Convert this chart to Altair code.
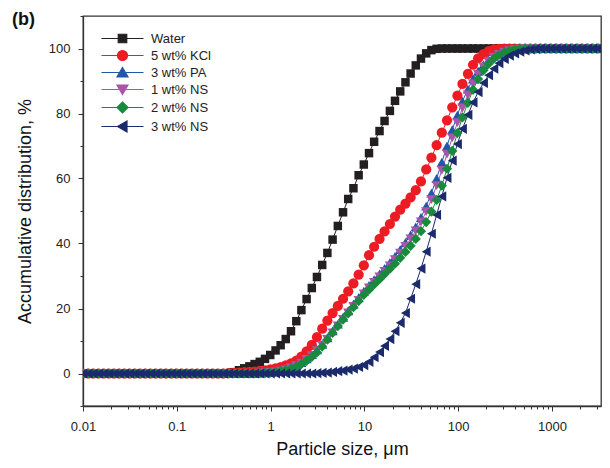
import altair as alt
import pandas as pd

# Particle size classes (um)
sizes = [
    0.0100, 0.0114, 0.0129, 0.0147, 0.0167, 0.0189, 0.0215, 0.0244, 0.0278, 0.0315,
    0.0358, 0.0407, 0.0463, 0.0526, 0.0597, 0.0679, 0.0771, 0.0876, 0.0995, 0.113,
    0.128, 0.146, 0.166, 0.188, 0.214, 0.243, 0.276, 0.314, 0.357, 0.405,
    0.460, 0.523, 0.594, 0.675, 0.767, 0.872, 0.991, 1.13, 1.28, 1.45,
    1.65, 1.88, 2.13, 2.42, 2.75, 3.12, 3.55, 4.03, 4.58, 5.21,
    5.92, 6.72, 7.64, 8.68, 9.86, 11.2, 12.7, 14.5, 16.4, 18.7,
    21.2, 24.1, 27.4, 31.1, 35.3, 40.1, 45.6, 51.8, 58.9, 66.9,
    76.0, 86.4, 98.1, 111, 127, 144, 163, 186, 211, 240,
    272, 310, 352, 400, 454, 516, 586, 666, 756, 859,
    976, 1110, 1260, 1430, 1630, 1850, 2100, 2390, 2710, 3080,
    3500,
]

water = [
    0, 0, 0, 0, 0, 0, 0, 0, 0, 0,
    0, 0, 0, 0, 0, 0, 0, 0, 0, 0,
    0, 0, 0, 0, 0, 0, 0, 0, 0.1, 0.4,
    1.0, 1.6, 2.2, 2.9, 3.6, 4.5, 5.7, 7.1, 8.7, 10.6,
    13.0, 16.1, 19.5, 22.9, 26.3, 29.7, 33.4, 37.1, 41.2, 45.4,
    49.6, 53.7, 57.0, 61.0, 64.3, 67.8, 71.3, 74.6, 77.7, 80.8,
    83.9, 86.8, 89.6, 92.3, 94.8, 96.9, 98.5, 99.5, 99.9, 100,
    100, 100, 100, 100, 100, 100, 100, 100, 100, 100,
    100, 100, 100, 100, 100, 100, 100, 100, 100, 100,
    100, 100, 100, 100, 100, 100, 100, 100, 100, 100,
    100,
]

kcl = [
    0, 0, 0, 0, 0, 0, 0, 0, 0, 0,
    0, 0, 0, 0, 0, 0, 0, 0, 0, 0,
    0, 0, 0, 0, 0, 0, 0, 0, 0.1, 0.2,
    0.3, 0.4, 0.5, 0.6, 0.8, 1.0, 1.3, 1.6, 2.0, 2.5,
    3.1, 4.0, 5.2, 6.8, 8.8, 11.2, 13.8, 16.3, 18.6, 20.8,
    23.0, 25.3, 27.7, 30.4, 33.3, 36.4, 39.0, 41.4, 43.7, 46.0,
    48.3, 50.4, 52.3, 54.2, 56.4, 59.1, 62.8, 66.4, 70.3, 74.1,
    77.9, 81.9, 85.5, 89.1, 92.2, 95.0, 97.0, 98.3, 99.2, 99.7,
    99.9, 100, 100, 100, 100, 100, 100, 100, 100, 100,
    100, 100, 100, 100, 100, 100, 100, 100, 100, 100,
    100,
]

pa = [
    0, 0, 0, 0, 0, 0, 0, 0, 0, 0,
    0, 0, 0, 0, 0, 0, 0, 0, 0, 0,
    0, 0, 0, 0, 0, 0, 0, 0, 0, 0,
    0, 0, 0, 0, 0.1, 0.2, 0.3, 0.5, 0.8, 1.2,
    1.8, 2.5, 3.4, 4.5, 5.8, 7.3, 9.0, 11.0, 13.1, 15.2,
    17.3, 19.3, 21.3, 23.3, 25.3, 27.1, 28.9, 30.6, 32.3, 34.1,
    36.0, 38.1, 40.3, 42.6, 45.1, 48.0, 51.5, 55.5, 60.0, 65.0,
    70.0, 75.0, 79.5, 83.8, 87.5, 90.6, 93.0, 95.0, 96.5, 97.6,
    98.4, 99.0, 99.4, 99.7, 99.9, 100, 100, 100, 100, 100,
    100, 100, 100, 100, 100, 100, 100, 100, 100, 100,
    100,
]

ns1 = [
    0, 0, 0, 0, 0, 0, 0, 0, 0, 0,
    0, 0, 0, 0, 0, 0, 0, 0, 0, 0,
    0, 0, 0, 0, 0, 0, 0, 0, 0, 0,
    0, 0, 0, 0, 0.1, 0.2, 0.3, 0.5, 0.7, 1.1,
    1.7, 2.4, 3.2, 4.3, 5.5, 7.0, 8.6, 10.5, 12.5, 14.6,
    16.6, 18.6, 20.6, 22.5, 24.5, 26.3, 28.0, 29.7, 31.4, 33.1,
    35.0, 37.0, 39.1, 41.4, 43.9, 46.6, 49.8, 53.5, 57.8, 62.5,
    67.5, 72.5, 77.2, 81.7, 85.7, 89.2, 92.0, 94.3, 96.0, 97.3,
    98.2, 98.9, 99.3, 99.7, 99.9, 100, 100, 100, 100, 100,
    100, 100, 100, 100, 100, 100, 100, 100, 100, 100,
    100,
]

ns2 = [
    0, 0, 0, 0, 0, 0, 0, 0, 0, 0,
    0, 0, 0, 0, 0, 0, 0, 0, 0, 0,
    0, 0, 0, 0, 0, 0, 0, 0, 0, 0,
    0, 0, 0, 0, 0.1, 0.2, 0.3, 0.5, 0.7, 1.0,
    1.5, 2.1, 2.9, 3.9, 5.1, 6.5, 8.3, 10.4, 12.5, 14.6,
    16.6, 18.5, 20.4, 22.3, 24.2, 25.8, 27.4, 29.0, 30.6, 32.2,
    33.8, 35.6, 37.4, 39.3, 41.4, 43.8, 46.6, 49.8, 53.4, 57.8,
    63.0, 68.5, 74.0, 78.8, 83.3, 87.3, 90.6, 93.3, 95.3, 96.9,
    98.0, 98.8, 99.3, 99.7, 99.9, 100, 100, 100, 100, 100,
    100, 100, 100, 100, 100, 100, 100, 100, 100, 100,
    100,
]

ns3 = [
    0, 0, 0, 0, 0, 0, 0, 0, 0, 0,
    0, 0, 0, 0, 0, 0, 0, 0, 0, 0,
    0, 0, 0, 0, 0, 0, 0, 0, 0, 0,
    0, 0, 0, 0, 0, 0, 0, 0, 0, 0,
    0, 0, 0, 0, 0, 0.1, 0.2, 0.3, 0.5, 0.7,
    0.9, 1.2, 1.5, 2.0, 2.6, 3.6, 5.0, 6.6, 8.5, 10.6,
    13.0, 15.6, 18.6, 23.0, 27.5, 32.3, 37.5, 43.0, 48.8, 54.5,
    60.2, 65.5, 70.6, 75.3, 79.6, 83.4, 86.6, 89.4, 91.8, 93.8,
    95.5, 96.8, 97.8, 98.5, 99.0, 99.4, 99.7, 99.9, 100, 100,
    100, 100, 100, 100, 100, 100, 100, 100, 100, 100,
    100,
]

names = ["Water", "5 wt% KCl", "3 wt% PA", "1 wt% NS", "2 wt% NS", "3 wt% NS"]
colors = ["#231f20", "#ed1c24", "#2156a8", "#a855aa", "#178a3c", "#1b2a6b"]
shapes = ["square", "circle", "triangle-up", "triangle-down", "diamond", "triangle-left"]
legend_shapes = [
    "M-4.2,0H4.2M-0.85,-0.85H0.85V0.85H-0.85Z",
    "M-4.2,0H4.2M1,0A1,1,0,1,1,-1,0A1,1,0,1,1,1,0Z",
    "M-4.2,0H4.2M0,-1L1.1,0.9H-1.1Z",
    "M-4.2,0H4.2M0,1L1.1,-0.9H-1.1Z",
    "M-4.2,0H4.2M0,-1.1L1.1,0L0,1.1L-1.1,0Z",
    "M-4.2,0H4.2M-1,0L0.9,-1.1V1.1Z",
]
panel_label = ["(b)"]

x_major = [0.01, 0.1, 1, 10, 100, 1000]
x_minor = [
    0.02, 0.03, 0.04, 0.05, 0.06, 0.07, 0.08, 0.09,
    0.2, 0.3, 0.4, 0.5, 0.6, 0.7, 0.8, 0.9,
    2, 3, 4, 5, 6, 7, 8, 9,
    20, 30, 40, 50, 60, 70, 80, 90,
    200, 300, 400, 500, 600, 700, 800, 900,
    2000, 3000,
]
y_major = [0, 20, 40, 60, 80, 100]
y_minor = [-10, 10, 30, 50, 70, 90, 110]

series_values = [water, kcl, pa, ns1, ns2, ns3]
rows = []
for name, vals in zip(names, series_values):
    for s, v in zip(sizes, vals):
        rows.append({"size": s, "value": v, "series": name})
df = pd.DataFrame(rows)

FONT = "Liberation Sans"
x_scale = alt.Scale(type="log", domain=[0.01, 3330], nice=False)
y_scale = alt.Scale(domain=[-10, 110], nice=False, zero=False)
color_scale = alt.Scale(domain=names, range=colors)

base = alt.Chart(df)

lines = base.mark_line(strokeWidth=1, clip=True).encode(
    x=alt.X("size:Q", scale=x_scale,
            axis=alt.Axis(values=x_major, format="~g", tickSize=5, labelPadding=9,
                          labelFlush=False, title="Particle size, μm", titlePadding=7,
                          orient="bottom", grid=False)),
    y=alt.Y("value:Q", scale=y_scale,
            axis=alt.Axis(values=y_major, tickSize=5, labelPadding=8, labelFlush=False,
                          title="Accumulative distribution, %", titlePadding=14,
                          orient="left", grid=False)),
    color=alt.Color("series:N", scale=color_scale, legend=None),
)

points = base.mark_point(filled=True, opacity=1, clip=True).encode(
    x=alt.X("size:Q", scale=x_scale,
            axis=alt.Axis(values=x_minor, labels=False, tickSize=3, domain=False,
                          title=None, orient="bottom", grid=False)),
    y=alt.Y("value:Q", scale=y_scale,
            axis=alt.Axis(values=y_minor, labels=False, tickSize=3, domain=False,
                          title=None, orient="left", grid=False)),
    color=alt.Color("series:N", scale=color_scale, legend=None),
    shape=alt.Shape("series:N", scale=alt.Scale(domain=names, range=shapes), legend=None),
    size=alt.condition(alt.datum.series == "Water", alt.value(72), alt.value(105)),
)

leg = alt.Legend(title=None, orient="none", legendX=17, legendY=16, padding=0,
                 rowPadding=2, symbolSize=100, symbolStrokeWidth=1.2,
                 symbolOffset=16, labelOffset=22, labelFontSize=13,
                 labelFont=FONT, labelColor="#222")

legend_layer = base.transform_filter("false").mark_point(filled=True, opacity=1).encode(
    fill=alt.Fill("series:N", scale=alt.Scale(domain=names, range=colors), legend=leg),
    stroke=alt.Stroke("series:N", scale=alt.Scale(domain=names, range=colors), legend=leg),
    shape=alt.Shape("series:N", scale=alt.Scale(domain=names, range=legend_shapes), legend=leg),
)

label_layer = alt.Chart(pd.DataFrame({"label": panel_label})).mark_text(
    align="left", baseline="alphabetic", font=FONT, fontSize=18,
    fontWeight="bold", color="#111",
).encode(
    text="label:N",
    x=alt.value(-71),
    y=alt.value(9),
)

chart = alt.layer(lines, points, legend_layer, label_layer).resolve_scale(
    shape="independent", fill="independent", stroke="independent"
).resolve_axis(
    x="independent", y="independent"
).properties(
    width=518,
    height=390,
    padding={"left": 75, "top": 8, "right": 1, "bottom": 54},
    autosize=alt.AutoSizeParams(type="none"),
).configure_view(
    stroke="#333", strokeWidth=1.3
).configure_axis(
    labelFont=FONT, titleFont=FONT, labelFontSize=13, titleFontSize=18,
    titleFontWeight="normal", labelColor="#222", titleColor="#111",
    domainColor="#333", tickColor="#333", domainWidth=1.3, tickWidth=1,
)

chart.save("out.html", embed_options={"renderer": "svg", "actions": False})
